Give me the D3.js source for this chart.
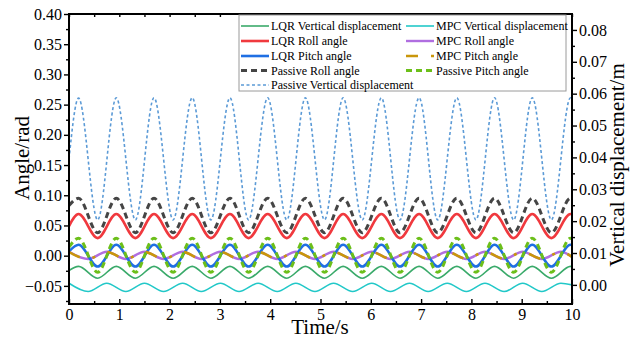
<!DOCTYPE html>
<html>
<head>
<meta charset="utf-8">
<script src="https://cdn.jsdelivr.net/npm/d3@7"></script>
<style>
  body { margin: 0; background: #fff; }
  svg { display: block; }
  svg text { font-family: "Liberation Serif", "Times New Roman", serif; fill: #000; }
</style>
</head>
<body>
<svg id="chart" width="630" height="340" font-family="Liberation Serif, Times New Roman, serif"></svg>
<script>
// ---- data ----
const timeTicks  = [0, 1, 2, 3, 4, 5, 6, 7, 8, 9, 10];
const angleTicks = [-0.05, 0.00, 0.05, 0.10, 0.15, 0.20, 0.25, 0.30, 0.35, 0.40];
const dispTicks  = [0.00, 0.01, 0.02, 0.03, 0.04, 0.05, 0.06, 0.07, 0.08];

// sample times (s): start, successive peaks/troughs, end
const tMain = [0, 0.19, 0.57, 0.94, 1.32, 1.69, 2.07, 2.45, 2.82, 3.20, 3.57, 3.95, 4.33, 4.70,
               5.08, 5.45, 5.83, 6.21, 6.58, 6.96, 7.33, 7.71, 8.09, 8.46, 8.84, 9.21, 9.59, 9.97, 10];
const tMPC  = [0, 0.38, 0.75, 1.13, 1.50, 1.88, 2.26, 2.63, 3.01, 3.38, 3.76, 4.14, 4.51, 4.89,
               5.26, 5.64, 6.02, 6.39, 6.77, 7.14, 7.52, 7.90, 8.27, 8.65, 9.02, 9.40, 9.78, 10];

// vertical displacement (m), right axis
const lqrVertical = [0.0045, 0.0058, 0.0021, 0.0058, 0.0021, 0.0058, 0.0021, 0.0058, 0.0021, 0.0058,
                     0.0021, 0.0058, 0.0021, 0.0058, 0.0021, 0.0058, 0.0021, 0.0058, 0.0021, 0.0058,
                     0.0021, 0.0058, 0.0021, 0.0058, 0.0021, 0.0058, 0.0021, 0.0058, 0.0057];
const mpcVertical = [0.0005, -0.0021, 0.0005, -0.0021, 0.0005, -0.0021, 0.0005, -0.0021, 0.0005, -0.0021,
                     0.0005, -0.0021, 0.0005, -0.0021, 0.0005, -0.0021, 0.0005, -0.0021, 0.0005, -0.0021,
                     0.0005, -0.0021, 0.0005, -0.0021, 0.0005, -0.0021, 0.0005, 0.0000];
const passiveVertical = [0.0395, 0.0586, 0.0204, 0.0587, 0.0204, 0.0587, 0.0204, 0.0587, 0.0204, 0.0587,
                         0.0204, 0.0587, 0.0204, 0.0587, 0.0204, 0.0587, 0.0204, 0.0587, 0.0204, 0.0587,
                         0.0204, 0.0587, 0.0204, 0.0587, 0.0204, 0.0587, 0.0204, 0.0587, 0.0585];

// angles (rad), left axis
const lqrRoll = [0.049, 0.069, 0.029, 0.069, 0.029, 0.069, 0.029, 0.069, 0.029, 0.069,
                 0.029, 0.069, 0.029, 0.069, 0.029, 0.069, 0.029, 0.069, 0.029, 0.069,
                 0.029, 0.069, 0.029, 0.069, 0.029, 0.069, 0.029, 0.069, 0.0688];
const mpcRoll = [0.0065, -0.0055, 0.0065, -0.0055, 0.0065, -0.0055, 0.0065, -0.0055, 0.0065, -0.0055,
                 0.0065, -0.0055, 0.0065, -0.0055, 0.0065, -0.0055, 0.0065, -0.0055, 0.0065, -0.0055,
                 0.0065, -0.0055, 0.0065, -0.0055, 0.0065, -0.0055, 0.0065, -0.0020];
const lqrPitch = [0.007, 0.018, -0.018, 0.018, -0.018, 0.018, -0.018, 0.018, -0.018, 0.018,
                  -0.018, 0.018, -0.018, 0.018, -0.018, 0.018, -0.018, 0.018, -0.018, 0.018,
                  -0.018, 0.018, -0.018, 0.018, -0.018, 0.018, -0.018, 0.018, 0.0178];
const mpcPitch = [0.0060, -0.0052, 0.0060, -0.0052, 0.0060, -0.0052, 0.0060, -0.0052, 0.0060, -0.0052,
                  0.0060, -0.0052, 0.0060, -0.0052, 0.0060, -0.0052, 0.0060, -0.0052, 0.0060, -0.0052,
                  0.0060, -0.0052, 0.0060, -0.0052, 0.0060, -0.0052, 0.0060, -0.0020];
const passiveRoll = [0.083, 0.095, 0.038, 0.095, 0.038, 0.095, 0.038, 0.095, 0.038, 0.095,
                     0.038, 0.095, 0.038, 0.095, 0.038, 0.095, 0.038, 0.095, 0.038, 0.095,
                     0.038, 0.095, 0.038, 0.095, 0.038, 0.095, 0.038, 0.095, 0.0945];
const passivePitch = [0.014, 0.029, -0.0275, 0.029, -0.0275, 0.029, -0.0275, 0.029, -0.0275, 0.029,
                      -0.0275, 0.029, -0.0275, 0.029, -0.0275, 0.029, -0.0275, 0.029, -0.0275, 0.029,
                      -0.0275, 0.029, -0.0275, 0.029, -0.0275, 0.029, -0.0275, 0.029, 0.0285];

// ---- series definitions (drawing order follows the legend) ----
const series = [
  { name: "LQR Vertical displacement",     t: tMain, v: lqrVertical,     axis: "disp" },
  { name: "MPC Vertical displacement",     t: tMPC,  v: mpcVertical,     axis: "disp" },
  { name: "LQR Roll angle",                t: tMain, v: lqrRoll,         axis: "angle" },
  { name: "MPC Roll angle",                t: tMPC,  v: mpcRoll,         axis: "angle" },
  { name: "LQR Pitch angle",               t: tMain, v: lqrPitch,        axis: "angle" },
  { name: "MPC Pitch angle",               t: tMPC,  v: mpcPitch,        axis: "angle" },
  { name: "Passive Roll angle",            t: tMain, v: passiveRoll,     axis: "angle" },
  { name: "Passive Pitch angle",           t: tMain, v: passivePitch,    axis: "angle" },
  { name: "Passive Vertical displacement", t: tMain, v: passiveVertical, axis: "disp" }
];

const styles = {
  "LQR Vertical displacement":     { color: "#3aaa6a", width: 1.6, dash: null },
  "MPC Vertical displacement":     { color: "#22c8c8", width: 1.6, dash: null },
  "LQR Roll angle":                { color: "#f0393e", width: 2.6, dash: null },
  "MPC Roll angle":                { color: "#b06ee0", width: 2.4, dash: null },
  "LQR Pitch angle":               { color: "#1f6fe3", width: 2.6, dash: null },
  "MPC Pitch angle":               { color: "#c9960b", width: 2.6, dash: "12,13,3,13" },
  "Passive Roll angle":            { color: "#454545", width: 3.0, dash: "6,4" },
  "Passive Pitch angle":           { color: "#6cbf1a", width: 3.0, dash: "6,4" },
  "Passive Vertical displacement": { color: "#5b9ad6", width: 1.6, dash: "3,2.5" }
};

// legend slots: [column, row]
const legendSlots = {
  "LQR Vertical displacement": [0, 0], "MPC Vertical displacement": [1, 0],
  "LQR Roll angle": [0, 1],            "MPC Roll angle": [1, 1],
  "LQR Pitch angle": [0, 2],           "MPC Pitch angle": [1, 2],
  "Passive Roll angle": [0, 3],        "Passive Pitch angle": [1, 3],
  "Passive Vertical displacement": [0, 4]
};

// ---- layout ----
const L = 69, R = 572, T = 14, B = 304;
const FONT = '"Liberation Serif", "Times New Roman", serif';
const svg = d3.select("#chart");

const x  = d3.scaleLinear().domain([0, 10]).range([L, R]);
const yA = d3.scaleLinear().domain([-0.08, 0.40]).range([B, T]);
const yD = d3.scaleLinear().domain([-0.006, 0.085]).range([B, T]);

svg.append("defs").append("clipPath").attr("id", "plotClip")
  .append("rect").attr("x", L).attr("y", T).attr("width", R - L).attr("height", B - T);

// ---- curves ----
const plot = svg.append("g").attr("clip-path", "url(#plotClip)");
series.forEach(s => {
  const st = styles[s.name];
  const y = s.axis === "disp" ? yD : yA;
  const line = d3.line()
    .x(d => x(d[0]))
    .y(d => y(d[1]))
    .curve(d3.curveMonotoneX);
  plot.append("path")
    .datum(d3.zip(s.t, s.v))
    .attr("d", line)
    .attr("fill", "none")
    .attr("stroke", st.color)
    .attr("stroke-width", st.width)
    .attr("stroke-dasharray", st.dash)
    .attr("stroke-linejoin", "round");
});

// ---- axes ----
const fmt2 = d3.format(".2f");
const halfTicks = d3.range(0.5, 10, 1);
const angleMinor = d3.range(-0.075, 0.40, 0.05);
const dispMinor = d3.range(0.005, 0.085, 0.01);

function styleAxis(g) {
  g.attr("font-family", null).attr("font-size", null);
  g.select(".domain").remove();
  g.selectAll(".tick line").attr("stroke", "#000").attr("stroke-width", 1.4);
  g.selectAll(".tick text").style("font-size", "16px").style("font-family", FONT);
}

// bottom
svg.append("g").attr("transform", `translate(0,${B})`)
  .call(d3.axisBottom(x).tickValues(timeTicks).tickFormat(d3.format("d"))
        .tickSizeInner(-5).tickSizeOuter(0).tickPadding(5))
  .call(styleAxis);
svg.append("g").attr("transform", `translate(0,${B})`)
  .call(d3.axisBottom(x).tickValues(halfTicks).tickFormat("").tickSizeInner(-3).tickSizeOuter(0))
  .call(styleAxis);
// top (ticks only)
svg.append("g").attr("transform", `translate(0,${T})`)
  .call(d3.axisTop(x).tickValues(timeTicks.concat(halfTicks)).tickFormat("").tickSizeInner(-3).tickSizeOuter(0))
  .call(styleAxis);
// left
svg.append("g").attr("transform", `translate(${L},0)`)
  .call(d3.axisLeft(yA).tickValues(angleTicks).tickFormat(fmt2).tickSizeInner(5).tickSizeOuter(0).tickPadding(2))
  .call(styleAxis);
svg.append("g").attr("transform", `translate(${L},0)`)
  .call(d3.axisLeft(yA).tickValues(angleMinor).tickFormat("").tickSizeInner(3).tickSizeOuter(0))
  .call(styleAxis);
// right
svg.append("g").attr("transform", `translate(${R},0)`)
  .call(d3.axisRight(yD).tickValues(dispTicks).tickFormat(fmt2).tickSizeInner(5).tickSizeOuter(0).tickPadding(2))
  .call(styleAxis);
svg.append("g").attr("transform", `translate(${R},0)`)
  .call(d3.axisRight(yD).tickValues(dispMinor).tickFormat("").tickSizeInner(3).tickSizeOuter(0))
  .call(styleAxis);

// frame
svg.append("rect").attr("x", L).attr("y", T).attr("width", R - L).attr("height", B - T)
  .attr("fill", "none").attr("stroke", "#000").attr("stroke-width", 2);

// ---- titles ----
svg.append("text").attr("transform", "translate(22,158) rotate(-90)")
  .attr("text-anchor", "middle").attr("dy", "0.35em").style("font-size", "21px").text("Angle/rad");
svg.append("text").attr("transform", "translate(617,165) rotate(-90)")
  .attr("text-anchor", "middle").attr("dy", "0.35em").style("font-size", "21px").text("Vertical displacement/m");
svg.append("text").attr("x", 320).attr("y", 334)
  .attr("text-anchor", "middle").style("font-size", "21px").text("Time/s");

// ---- legend ----
const legend = svg.append("g");
legend.append("rect").attr("x", 239).attr("y", 15).attr("width", 327).attr("height", 76)
  .attr("fill", "#fff").attr("stroke", "#9a9a9a").attr("stroke-width", 1);
const colX = [241, 406];
const rowY = [26, 41, 56, 70.5, 85];
series.forEach(s => {
  const st = styles[s.name];
  const [col, row] = legendSlots[s.name];
  const lx = colX[col], ly = rowY[row];
  legend.append("line").attr("x1", lx).attr("x2", lx + 28).attr("y1", ly).attr("y2", ly)
    .attr("stroke", st.color).attr("stroke-width", st.width).attr("stroke-dasharray", st.dash);
  legend.append("text").attr("x", lx + 30).attr("y", ly).attr("dy", "0.35em")
    .style("font-size", "12px").text(s.name);
});
</script>
</body>
</html>
